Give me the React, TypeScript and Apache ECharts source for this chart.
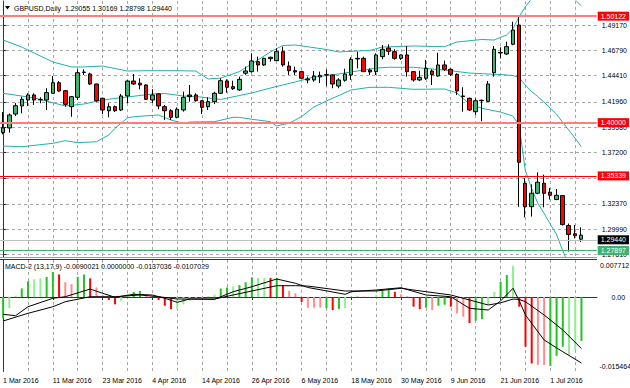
import React, { useEffect, useRef } from 'react';
import * as echarts from 'echarts';

// ---------- DATA ----------
const dates: string[] = [
  '1 Mar 2016','2 Mar 2016','3 Mar 2016','4 Mar 2016','7 Mar 2016','8 Mar 2016','9 Mar 2016','10 Mar 2016','11 Mar 2016','14 Mar 2016',
  '15 Mar 2016','16 Mar 2016','17 Mar 2016','18 Mar 2016','21 Mar 2016','22 Mar 2016','23 Mar 2016','24 Mar 2016','25 Mar 2016','28 Mar 2016',
  '29 Mar 2016','30 Mar 2016','31 Mar 2016','1 Apr 2016','4 Apr 2016','5 Apr 2016','6 Apr 2016','7 Apr 2016','8 Apr 2016','11 Apr 2016',
  '12 Apr 2016','13 Apr 2016','14 Apr 2016','15 Apr 2016','18 Apr 2016','19 Apr 2016','20 Apr 2016','21 Apr 2016','22 Apr 2016','25 Apr 2016',
  '26 Apr 2016','27 Apr 2016','28 Apr 2016','29 Apr 2016','2 May 2016','3 May 2016','4 May 2016','5 May 2016','6 May 2016','9 May 2016',
  '10 May 2016','11 May 2016','12 May 2016','13 May 2016','16 May 2016','17 May 2016','18 May 2016','19 May 2016','20 May 2016','23 May 2016',
  '24 May 2016','25 May 2016','26 May 2016','27 May 2016','30 May 2016','31 May 2016','1 Jun 2016','2 Jun 2016','3 Jun 2016','6 Jun 2016',
  '7 Jun 2016','8 Jun 2016','9 Jun 2016','10 Jun 2016','13 Jun 2016','14 Jun 2016','15 Jun 2016','16 Jun 2016','17 Jun 2016','20 Jun 2016',
  '21 Jun 2016','22 Jun 2016','23 Jun 2016','24 Jun 2016','27 Jun 2016','28 Jun 2016','29 Jun 2016','30 Jun 2016','1 Jul 2016','4 Jul 2016',
  '5 Jul 2016','6 Jul 2016','7 Jul 2016','8 Jul 2016',
];

const opens: number[] = [
  1.3906,1.3950,1.4081,1.4157,1.4213,1.4260,1.4214,1.4213,1.4276,1.4375,
  1.4300,1.4150,1.4238,1.4472,1.4457,1.4363,1.4229,1.4112,1.4150,1.4119,
  1.4251,1.4391,1.4370,1.4354,1.4213,1.4270,1.4150,1.4112,1.4050,1.4119,
  1.4260,1.4260,1.4206,1.4150,1.4197,1.4276,1.4391,1.4338,1.4307,1.4464,
  1.4479,1.4573,1.4542,1.4601,1.4582,1.4667,1.4532,1.4488,1.4479,1.4401,
  1.4401,1.4429,1.4448,1.4448,1.4344,1.4398,1.4448,1.4598,1.4604,1.4494,
  1.4479,1.4620,1.4701,1.4667,1.4604,1.4636,1.4479,1.4401,1.4417,1.4485,
  1.4438,1.4542,1.4501,1.4454,1.4251,1.4229,1.4103,1.4206,1.4200,1.4469,
  1.4654,1.4645,1.4736,1.4917,1.3430,1.3211,1.3337,1.3431,1.3347,1.3278,
  1.3315,1.3034,1.2957,1.29055,
];
const highs: number[] = [
  1.4100,1.4085,1.4185,1.4244,1.4276,1.4276,1.4238,1.4323,1.4438,1.4391,
  1.4307,1.4250,1.4501,1.4501,1.4469,1.4366,1.4232,1.4182,1.4160,1.4270,
  1.4401,1.4457,1.4417,1.4363,1.4313,1.4276,1.4166,1.4126,1.4144,1.4291,
  1.4354,1.4276,1.4213,1.4238,1.4291,1.4417,1.4407,1.4394,1.4432,1.4526,
  1.4651,1.4620,1.4610,1.4620,1.4698,1.4714,1.4574,1.4526,1.4488,1.4432,
  1.4485,1.4479,1.4501,1.4451,1.4417,1.4507,1.4614,1.4667,1.4620,1.4510,
  1.4651,1.4729,1.4736,1.4689,1.4642,1.4720,1.4485,1.4488,1.4589,1.4501,
  1.4657,1.4583,1.4510,1.4463,1.4332,1.4235,1.4229,1.4216,1.4391,1.4720,
  1.4707,1.4761,1.4948,1.50122,1.3478,1.3421,1.35339,1.3512,1.3387,1.3377,
  1.3318,1.3053,1.3040,1.30169,
];
const lows: number[] = [
  1.3890,1.3906,1.4063,1.4088,1.4156,1.4166,1.4182,1.4119,1.4270,1.4291,
  1.4150,1.4056,1.4213,1.4448,1.4354,1.4197,1.4080,1.4050,1.4100,1.4110,
  1.4182,1.4354,1.4313,1.4213,1.4185,1.4126,1.4025,1.4025,1.4041,1.4103,
  1.4197,1.4197,1.4081,1.4119,1.4175,1.4270,1.4281,1.4307,1.4300,1.4448,
  1.4469,1.4479,1.4532,1.4573,1.4579,1.4526,1.4448,1.4448,1.4410,1.4370,
  1.4385,1.4373,1.4344,1.4323,1.4323,1.4385,1.4401,1.4510,1.4476,1.4448,
  1.4448,1.4595,1.4636,1.4592,1.4589,1.4432,1.4385,1.4391,1.4401,1.4354,
  1.4432,1.4485,1.4438,1.4260,1.4103,1.4110,1.4072,1.4013,1.4194,1.4432,
  1.4604,1.4636,1.4727,1.3211,1.3111,1.3118,1.3328,1.3205,1.3278,1.3272,
  1.3034,1.27897,1.2913,1.28798,
];
const closes: number[] = [
  1.3952,1.4072,1.4159,1.4219,1.4260,1.4213,1.4218,1.4282,1.4375,1.4297,
  1.4172,1.4244,1.4469,1.4475,1.4363,1.4206,1.4119,1.4150,1.4112,1.4251,
  1.4391,1.4363,1.4354,1.4219,1.4260,1.4157,1.4112,1.4050,1.4126,1.4238,
  1.4244,1.4206,1.4144,1.4197,1.4276,1.4394,1.4332,1.4319,1.4407,1.4485,
  1.4579,1.4542,1.4604,1.4614,1.4667,1.4542,1.4488,1.4476,1.4417,1.4410,
  1.4438,1.4444,1.4451,1.4363,1.4401,1.4457,1.4595,1.4604,1.4479,1.4476,
  1.4636,1.4689,1.4670,1.4604,1.4636,1.4479,1.4401,1.4425,1.4511,1.4451,
  1.4542,1.4501,1.4454,1.4297,1.4245,1.4119,1.4206,1.4210,1.4363,1.4689,
  1.4660,1.4714,1.4870,1.3628,1.3211,1.3337,1.3441,1.3337,1.3318,1.3318,
  1.3043,1.2950,1.2939,1.29440,
];

// Bollinger bands: [bar index, price]
const bbUpper: [number, number][] = [
  [0,1.4776],[3,1.4710],[5,1.4654],[8,1.4570],[11,1.4523],[13,1.4523],[16,1.4532],[20,1.4485],
  [23,1.4488],[28,1.4488],[31,1.4485],[33,1.4410],[35,1.4419],[38,1.4479],[41,1.4589],[43,1.4664],
  [45,1.4725],[47,1.4729],[49,1.4713],[52,1.4687],[54,1.4664],[57,1.4673],[59,1.4678],[61,1.4710],
  [66,1.4720],[71,1.4713],[73,1.4757],[77,1.4781],[79,1.4776],[81,1.4823],[82,1.4880],[83,1.4992],
  [84,1.5086],[85,1.5161],[86,1.5236],[87,1.5283],[88,1.5311],[89,1.5321],[90,1.5283],[91,1.5217],
  [92,1.5156],[93,1.5098],
];
const bbMiddle: [number, number][] = [
  [0,1.4276],[5,1.4232],[10,1.4157],[13,1.4175],[16,1.4213],[20,1.4241],[24,1.4269],[26,1.4274],
  [29,1.4250],[31,1.4246],[35,1.4218],[38,1.4255],[40,1.4279],[43,1.4325],[45,1.4354],[47,1.4382],
  [50,1.4429],[53,1.4448],[56,1.4476],[60,1.4513],[62,1.4520],[66,1.4520],[70,1.4499],[72,1.4488],
  [75,1.4466],[78,1.4457],[80,1.4452],[82,1.4443],[83,1.4424],[84,1.4354],[85,1.4293],[86,1.4246],
  [87,1.4194],[88,1.4138],[89,1.4081],[90,1.4006],[91,1.3931],[92,1.3856],[93,1.3776],
];
const bbLower: [number, number][] = [
  [0,1.3781],[3,1.3774],[8,1.3806],[10,1.3831],[12,1.3812],[15,1.3821],[17,1.3884],[18,1.3947],
  [20,1.4044],[21,1.4056],[25,1.4072],[27,1.4025],[29,1.3994],[30,1.4006],[34,1.4009],[37,1.4050],
  [38,1.4050],[40,1.4032],[43,1.4009],[44,1.3969],[45,1.3983],[46,1.3994],[48,1.4056],[50,1.4147],
  [52,1.4203],[56,1.4307],[59,1.4332],[62,1.4332],[66,1.4313],[71,1.4316],[73,1.4279],[75,1.4175],
  [77,1.4135],[80,1.4100],[82,1.4063],[83,1.3978],[84,1.3556],[85,1.3387],[86,1.3246],[87,1.3152],
  [88,1.3049],[89,1.2955],[90,1.2804],[91,1.2663],[92,1.2541],[93,1.2448],
];

// MACD-2 histogram (per bar) and its colour code: G green, g light green, R red, r light red
const macdHist: number[] = [
  -0.0044,-0.0023,0.0003,0.0018,0.0033,0.0037,0.0039,0.0042,0.0052,0.0047,
  0.0031,0.0027,0.0042,0.0047,0.0039,0.0020,0.0004,-0.0006,-0.0015,-0.0008,
  0.0006,0.0011,0.0013,0.0004,0.0001,-0.0006,-0.0018,-0.0025,-0.0025,-0.0015,
  -0.0008,-0.0003,-0.0004,0.0002,0.0005,0.0018,0.0020,0.0022,0.0025,0.0031,
  0.0041,0.0040,0.0040,0.0040,0.0040,0.0025,0.0013,0.0008,-0.0010,-0.0022,
  -0.0022,-0.0022,-0.0023,-0.0027,-0.0025,-0.0023,0.0001,0.0003,0.0001,-0.0002,
  0.0004,0.0013,0.0018,0.0011,0.0006,0.0002,-0.0020,-0.0025,-0.0022,-0.0027,
  -0.0018,-0.0016,-0.0020,-0.0034,-0.0041,-0.0054,-0.0049,-0.0046,-0.0015,0.0011,
  0.0032,0.0046,0.0065,-0.0020,-0.0103,-0.0138,-0.0141,-0.0141,-0.0143,-0.0122,
  -0.0103,-0.0120,-0.0110,-0.0091,
];
const macdColorCodes =
  'GggGGggGGRrrGGRrrRRggGGrrRRRggg' +
  'rrggGGgGGGggRGRrrRrrrGRGgggrRgGGRrrRRGrGGRrrRGGggGGgRRRrrGGGggG';

// MACD-2 lines: [bar index, value]
const macdMain: [number, number][] = [
  [0,-0.00358],[2,-0.00387],[4,-0.0020],[8,-0.00025],[10,0.00008],[14,0.00168],[16,0.00079],[18,-0.00004],
  [21,0.00058],[24,0.00044],[26,-0.00025],[28,-0.00108],[30,-0.0004],[34,-0.00046],[37,0.00112],[40,0.00216],
  [44,0.00376],[47,0.00287],[49,0.0020],[55,0.00058],[56,0.00112],[60,0.00148],[64,0.00195],[68,0.00044],
  [72,0.00008],[75,-0.00233],[78,-0.00268],[80,-0.0008],[82,0.00183],[83,-0.0008],[84,-0.00372],[87,-0.00892],
  [90,-0.01135],[93,-0.0137036],
];
const macdSignal: [number, number][] = [
  [0,-0.00497],[4,-0.00337],[8,-0.0020],[10,-0.00096],[14,0.00008],[18,0.00008],[22,0.00044],[25,0.00008],
  [28,-0.0004],[34,-0.0004],[37,0.00044],[40,0.00127],[44,0.00237],[47,0.00237],[49,0.0023],[55,0.00127],
  [60,0.00127],[64,0.00183],[68,0.00112],[72,0.00044],[75,-0.0006],[78,-0.00164],[80,-0.0012],[82,-0.0004],
  [83,-0.0005],[84,-0.00096],[87,-0.00372],[90,-0.00684],[93,-0.0107029],
];

const priceTicks: number[] = [1.27610,1.29990,1.32370,1.34820,1.37200,1.39580,1.41960,1.44410,1.46790,1.49170];
const levelValues: number[] = [1.50122, 1.40000, 1.35339, 1.29440, 1.27897];
const macdAxisLabels: string[] = ['0.007712', '0.00', '-0.015464'];
const titleText = 'GBPUSD,Daily  1.29055 1.30169 1.28798 1.29440';
const macdTitle = 'MACD-2 (13,17,9) -0.0090021 0.0000000 -0.0137036 -0.0107029';

// ---------- LAYOUT / STYLE ----------
const FONT = '"Liberation Sans", Arial, sans-serif';
const PRICE_MIN = 1.27385;
const PRICE_MAX = 1.51424;
const MACD_MIN = -0.015464;
const MACD_MAX = 0.007712;
const GRID_COLOR = '#a6a6a6';
const BB_COLOR = '#20B2AA';
const HIST_COLORS: Record<string, string> = { G: '#22c422', g: '#90ee90', R: '#ff0000', r: '#ff8c8c' };
const levelStyles = [
  { line: '#ff7d7d', width: 2, box: '#ff0000' },
  { line: '#ff7d7d', width: 2, box: '#ff0000' },
  { line: '#ff0000', width: 1, box: '#ff0000' },
  { line: '#c0c0c0', width: 1, box: '#000000' },
  { line: '#3cb371', width: 1, box: '#3cb371' },
];

const categories = [...dates, ' ', '  '];
const vGrid: number[] = [];
for (let i = 0; i < dates.length; i += 4) vGrid.push(i);

function buildOption(): any {
  const candleData = dates.map((_, i) => [opens[i], closes[i], lows[i], highs[i]]);
  const histData = macdHist.map((v, i) => ({
    value: v,
    itemStyle: { color: HIST_COLORS[macdColorCodes[i]] || HIST_COLORS.G },
  }));
  const dash = { type: [3, 3], color: GRID_COLOR, width: 1 };
  const nCat = categories.length;

  // hidden value axis matching the category bands, used only to draw vertical grid lines at bar centres
  const gridXAxis = (gridIndex: number) => ({
    type: 'value', gridIndex, min: -0.5, max: nCat - 0.5, position: 'bottom',
    axisLine: { show: false },
    axisTick: { show: false, customValues: vGrid },
    axisLabel: { show: false, customValues: vGrid },
    splitLine: { show: true, lineStyle: dash },
  });

  return {
    animation: false,
    backgroundColor: '#ffffff',
    textStyle: { fontFamily: FONT },
    grid: [
      { left: 0, top: 1, width: 597, height: 256 },
      { left: 0, top: 260, width: 597, height: 111.5 },
    ],
    xAxis: [
      {
        type: 'category', gridIndex: 0, data: categories, boundaryGap: true,
        axisLabel: { show: false }, axisTick: { show: false },
        axisLine: { show: true, lineStyle: { color: '#9a9a9a', width: 1 } },
        splitLine: { show: false },
      },
      {
        type: 'category', gridIndex: 1, data: categories, boundaryGap: true,
        axisLabel: { show: true, interval: 7, align: 'left', fontSize: 7, fontFamily: FONT, color: '#000', margin: 5 },
        axisTick: { show: true, interval: 7, alignWithLabel: true, length: 3, lineStyle: { color: '#333' } },
        axisLine: { show: true, lineStyle: { color: '#333', width: 1 } },
        splitLine: { show: false },
      },
      gridXAxis(0),
      gridXAxis(1),
    ],
    yAxis: [
      {
        type: 'value', gridIndex: 0, position: 'right', min: PRICE_MIN, max: PRICE_MAX, scale: true,
        axisLine: { show: true, lineStyle: { color: '#333', width: 1 } },
        axisTick: { show: true, length: 3, customValues: priceTicks, lineStyle: { color: '#333' } },
        axisLabel: {
          show: true, customValues: priceTicks, formatter: (v: number) => v.toFixed(5),
          fontSize: 7, fontFamily: FONT, color: '#000', margin: 5,
        },
        splitLine: { show: true, lineStyle: dash },
      },
      {
        type: 'value', gridIndex: 1, position: 'right', min: MACD_MIN, max: MACD_MAX,
        axisLine: { show: true, lineStyle: { color: '#333', width: 1 } },
        axisTick: { show: false, customValues: [0] },
        axisLabel: { show: false, customValues: [0] },
        splitLine: { show: true, lineStyle: dash },
      },
    ],
    series: [
      {
        type: 'line', name: 'levels', xAxisIndex: 0, yAxisIndex: 0, data: [], z: 2, silent: true,
        markLine: {
          silent: true, symbol: ['none', 'none'],
          data: levelValues.map((v, k) => ({
            yAxis: v,
            lineStyle: { color: levelStyles[k].line, width: levelStyles[k].width, type: 'solid' },
            label: {
              show: true, position: 'end', distance: 1, formatter: v.toFixed(5),
              color: '#fff', backgroundColor: levelStyles[k].box, padding: [1, 3, 1, 3],
              fontSize: 7, fontFamily: FONT,
            },
          })),
        },
      },
      {
        type: 'line', name: 'bbUpper', xAxisIndex: 0, yAxisIndex: 0, data: bbUpper, showSymbol: false,
        lineStyle: { color: BB_COLOR, width: 1 }, z: 3, silent: true, clip: true,
      },
      {
        type: 'line', name: 'bbMiddle', xAxisIndex: 0, yAxisIndex: 0, data: bbMiddle, showSymbol: false,
        lineStyle: { color: BB_COLOR, width: 1 }, z: 3, silent: true, clip: true,
      },
      {
        type: 'line', name: 'bbLower', xAxisIndex: 0, yAxisIndex: 0, data: bbLower, showSymbol: false,
        lineStyle: { color: BB_COLOR, width: 1 }, z: 3, silent: true, clip: true,
      },
      {
        type: 'candlestick', name: 'GBPUSD', xAxisIndex: 0, yAxisIndex: 0, data: candleData,
        barWidth: 4, z: 4, silent: true, clip: true,
        itemStyle: { color: '#3cb371', color0: '#ff0000', borderColor: '#000', borderColor0: '#000', borderColorDoji: '#000', borderWidth: 1 },
      },
      {
        type: 'bar', name: 'hist', xAxisIndex: 1, yAxisIndex: 1, data: histData, barWidth: 2, z: 2, silent: true,
      },
      {
        type: 'line', name: 'macd', xAxisIndex: 1, yAxisIndex: 1, data: macdMain, showSymbol: false,
        lineStyle: { color: '#000', width: 1 }, z: 3, silent: true,
      },
      {
        type: 'line', name: 'signal', xAxisIndex: 1, yAxisIndex: 1, data: macdSignal, showSymbol: false,
        lineStyle: { color: '#000', width: 1 }, z: 3, silent: true,
      },
    ],
    graphic: [
      { type: 'polygon', shape: { points: [[5, 6], [10, 6], [7.5, 9.5]] }, style: { fill: '#000' }, silent: true },
      { type: 'text', x: 14, y: 8.5, silent: true, style: { text: titleText, fill: '#000', fontSize: 7, fontFamily: FONT, verticalAlign: 'middle' } },
      { type: 'text', x: 5, y: 266, silent: true, style: { text: macdTitle, fill: '#000', fontSize: 7, fontFamily: FONT, verticalAlign: 'middle' } },
      { type: 'text', x: 600, y: 265, silent: true, style: { text: macdAxisLabels[0], fill: '#000', fontSize: 7, fontFamily: FONT, verticalAlign: 'middle' } },
      { type: 'text', x: 611.5, y: 297, silent: true, style: { text: macdAxisLabels[1], fill: '#000', fontSize: 7, fontFamily: FONT, verticalAlign: 'middle' } },
      { type: 'text', x: 599.5, y: 366, silent: true, style: { text: macdAxisLabels[2], fill: '#000', fontSize: 7, fontFamily: FONT, verticalAlign: 'middle' } },
      { type: 'line', shape: { x1: 0, y1: 259.5, x2: 597, y2: 259.5 }, style: { stroke: '#333', lineWidth: 1 }, silent: true },
    ],
  };
}

export default function App() {
  const ref = useRef<HTMLDivElement>(null);
  useEffect(() => {
    if (!ref.current) return;
    const chart = echarts.init(ref.current, null, { renderer: 'svg', width: 630, height: 388 });
    chart.setOption(buildOption());
    return () => chart.dispose();
  }, []);
  return (
    <div
      ref={ref}
      style={{ position: 'absolute', left: 0, top: 0, width: 630, height: 388, background: '#fff' }}
    />
  );
}
